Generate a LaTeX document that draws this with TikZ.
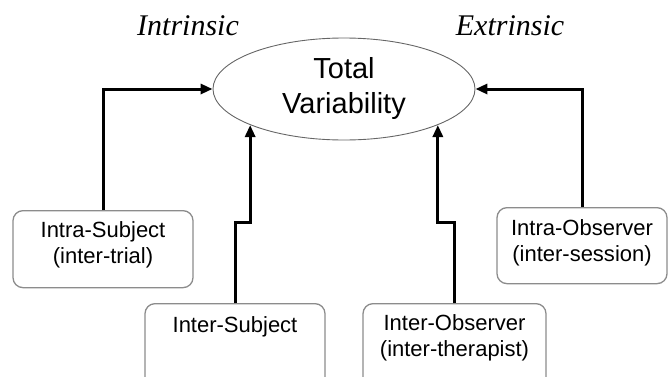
\documentclass[tikz,border=0pt]{standalone}
\usepackage{fontspec}
\setmainfont{Liberation Serif}
\setsansfont{Liberation Sans}
\usepackage{tikz}
\usetikzlibrary{shapes.geometric}
\usetikzlibrary{arrows.meta}

\begin{document}
\begin{tikzpicture}[x=1pt, y=1pt,
    source/.style={draw=gray!90, line width=1.3pt, rounded corners=10pt, font=\sffamily\fontsize{22}{25.5}\selectfont, align=center, anchor=north, inner xsep=5pt, inner ysep=0pt, text height=27pt, text depth=50pt},
    total/.style={ellipse, draw=gray!80!black, line width=0.9pt, minimum width=262pt, minimum height=102pt, inner sep=0pt, align=center, font=\sffamily\fontsize{29}{35}\selectfont},
    flow/.style={draw, line width=3pt, -{Triangle[length=12pt, width=10pt]}},
    side/.style={font=\itshape\fontsize{30}{30}\selectfont, anchor=base}]
    \useasboundingbox (0,0) rectangle (668,376);
    \node[total] (tv) at (344,287) {Total\\Variability};
    \node[side] (intr) at (188,341) {Intrinsic};
    \node[side] (extr) at (510,341) {Extrinsic};
    \node[source, text width=170pt] (isub) at (103,166) {Intra-Subject\\(inter-trial)};
    \node[source, text width=170pt, text height=29pt, text depth=60pt] (esub) at (235,73) {Inter-Subject};
    \node[source, text width=173pt, text depth=60pt] (eobs) at (454.5,73) {Inter-Observer\\(inter-therapist)};
    \node[source, text width=160pt, text height=28pt, text depth=48pt] (iobs) at (582,169) {Intra-Observer\\(inter-session)};

    \draw[flow] (isub.north) |- (tv.west);
    \draw[flow] (esub.north) -- ++(0,81) -| (tv.201);
    \draw[flow] (eobs.north) -- ++(0,81) -| (tv.339);
    \draw[flow] (iobs.north) |- (tv.east);
\end{tikzpicture}
\end{document}
